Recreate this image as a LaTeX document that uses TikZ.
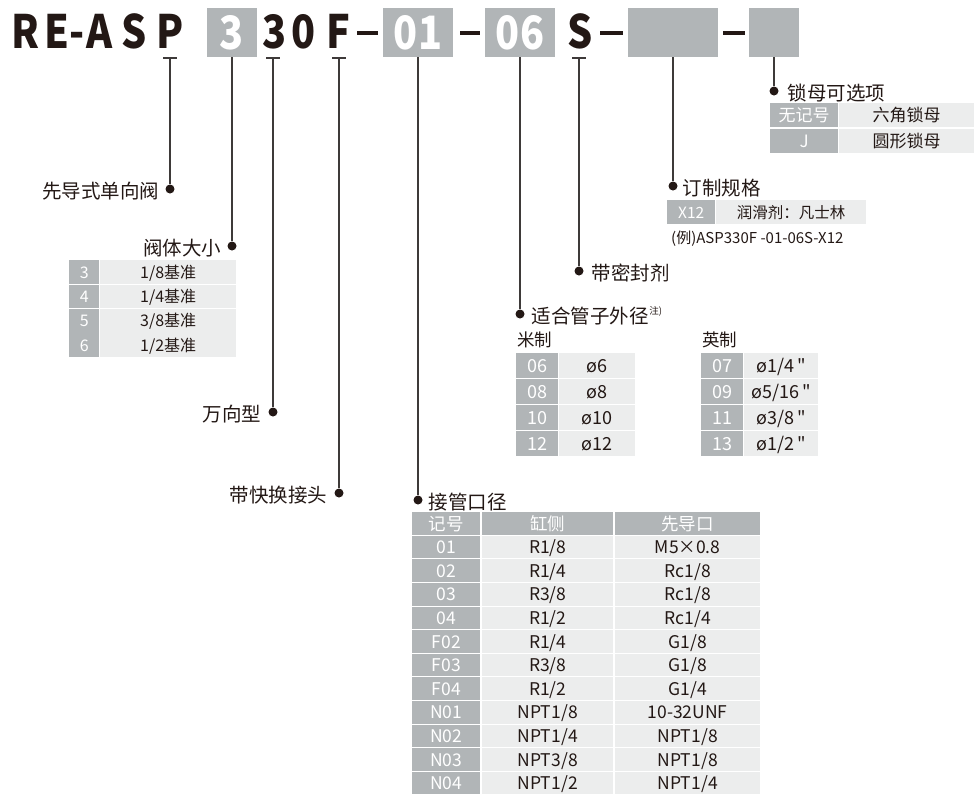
\documentclass[tikz,border=0pt]{standalone}
\usepackage{fontspec}
\usepackage{graphicx}
\setmainfont{Noto Sans CJK SC}
\newfontfamily\plainquote{Noto Sans CJK SC}
\newcommand{\narrow}[1]{\scalebox{0.86}[1]{#1}}
\usetikzlibrary{positioning}
\definecolor{ink}{HTML}{231815}
\definecolor{wire}{HTML}{3E3A39}
\definecolor{keygray}{HTML}{B1B5B7}
\definecolor{cellgray}{HTML}{ECEDED}
\begin{document}
\begin{tikzpicture}[x=1pt, y=-1pt,
    title/.style ={anchor=base, inner sep=0pt, text=ink, font=\fontsize{46}{46}\selectfont\bfseries},
    codebox/.style ={fill=keygray, text=white, inner sep=0pt, minimum height=49pt, text height=33.5pt, text depth=0pt, font=\fontsize{46}{46}\selectfont\bfseries},
    sepbar/.style ={line width=3.5pt, ink},
    lead/.style ={line width=1.5pt, wire},
    pin/.style ={circle, fill=ink, inner sep=0pt, minimum size=9pt},
    itemname/.style ={inner sep=0pt, text=ink, text height=14.8pt, text depth=0pt, yshift=-2.5pt, font=\fontsize{19.5}{19.5}\selectfont},
    key/.style ={fill=keygray, text=white, inner sep=0pt, anchor=north west, text depth=0pt},
    cell/.style ={fill=cellgray, text=ink, inner sep=0pt, anchor=north west, text depth=0pt},
    sizekey/.style ={key, minimum width=30pt, minimum height=23.5pt, text height=12.2pt, font=\fontsize{16}{16}\selectfont},
    sizecell/.style ={cell, minimum width=136pt, minimum height=23.5pt, text height=12.2pt, font=\fontsize{16}{16}\selectfont},
    nutkey/.style ={key, minimum width=68pt, minimum height=24pt, text height=12.9pt, font=\fontsize{17}{17}\selectfont},
    nutcell/.style ={cell, minimum width=135pt, minimum height=24pt, text height=12.9pt, font=\fontsize{17}{17}\selectfont},
    tubekey/.style ={key, minimum width=42pt, minimum height=25pt, text height=13.7pt, font=\fontsize{18}{18}\selectfont},
    tubecell/.style ={cell, minimum height=25pt, text height=13.7pt, font=\fontsize{18}{18}\selectfont},
    portkey/.style ={key, minimum width=68pt, minimum height=22.5pt, text height=13.3pt, font=\fontsize{17.5}{17.5}\selectfont},
    portcell/.style ={cell, minimum height=22.5pt, text height=13.3pt, font=\fontsize{17.5}{17.5}\selectfont}]
   \useasboundingbox (0,0) rectangle (974,796);

   \node[title] (cR) at (26,48) {\narrow{R}};
   \node[title] (cE) at (57,48) {\narrow{E}};
   \node[title] (cH) at (77,48) {\narrow{-}};
   \node[title] (cA) at (100,48) {\narrow{A}};
   \node[title] (cS) at (134,48) {\narrow{S}};
   \node[title] (cP) at (170,48) {\narrow{P}};
   \node[codebox, minimum width=50pt] (b3) at (232,32.5) {\narrow{3}};
   \node[title] (c3) at (275,48) {\narrow{3}};
   \node[title] (c0) at (304,48) {\narrow{0}};
   \node[title] (cF) at (338,48) {\narrow{F}};
   \node[codebox, minimum width=70pt] (b01) at (418,32.5) {\narrow{01}};
   \node[codebox, minimum width=70pt] (b06) at (520,32.5) {\narrow{06}};
   \node[title] (cS2) at (580,48) {\narrow{S}};
   \node[codebox, minimum width=90pt] (bx) at (673,32.5) {};
   \node[codebox, minimum width=50pt] (bn) at (774,32.5) {};

   \draw[sepbar] (357,33) -- (378,33);
   \draw[sepbar] (460,33) -- (480,33);
   \draw[sepbar] (600,33) -- (623,33);
   \draw[sepbar] (723,33) -- (745,33);

   \coordinate (tP) at (170,58);
   \coordinate (t3) at (273,58);
   \coordinate (tF) at (339,58);
   \coordinate (tS) at (579,58);
   \draw[lead] (163,58) -- (177,58);
   \draw[lead] (266,58) -- (280,58);
   \draw[lead] (332,58) -- (346,58);
   \draw[lead] (572,58) -- (586,58);

   \node[pin] (dP) at (170,189) {};
   \node[pin] (dSize) at (232,246) {};
   \node[pin] (dU) at (273,412) {};
   \node[pin] (dF) at (339,493) {};
   \node[pin] (dPort) at (418,500) {};
   \node[pin] (dTube) at (520,314) {};
   \node[pin] (dSeal) at (579,271) {};
   \node[pin] (dX) at (673,186) {};
   \node[pin] (dNut) at (774,91) {};

   \draw[lead] (tP) -- (dP);
   \draw[lead] (b3.south) -- (dSize);
   \draw[lead] (t3) -- (dU);
   \draw[lead] (tF) -- (dF);
   \draw[lead] (b01.south) -- (dPort);
   \draw[lead] (b06.south) -- (dTube);
   \draw[lead] (tS) -- (dSeal);
   \draw[lead] (bx.south) -- (dX);
   \draw[lead] (bn.south) -- (dNut);

   \node[itemname, left=6pt of dP] (lP) {先导式单向阀};
   \node[itemname, left=6pt of dSize] (lSize) {阀体大小};
   \node[itemname, left=7pt of dU] (lU) {万向型};
   \node[itemname, left=7pt of dF] (lF) {带快换接头};
   \node[itemname, right=6pt of dPort] (lPort) {接管口径};
   \node[itemname, right=7pt of dTube] (lTube) {适合管子外径};
   \node[inner sep=0pt, anchor=north west, text=ink, font=\fontsize{9.5}{9.5}\selectfont] (lNote) at ([yshift=3pt]lTube.north east) {注)};
   \node[itemname, right=8pt of dSeal] (lSeal) {带密封剂};
   \node[itemname, right=5pt of dX] (lX) {订制规格};
   \node[itemname, right=9pt of dNut] (lNut) {锁母可选项};

   \node[sizekey] (s3k) at (69,260) {3};
   \node[sizecell] (s3v) at (100,260) {1/8基准};
   \node[sizekey] (s4k) at (69,284.4) {4};
   \node[sizecell] (s4v) at (100,284.4) {1/4基准};
   \node[sizekey] (s5k) at (69,308.8) {5};
   \node[sizecell] (s5v) at (100,308.8) {3/8基准};
   \node[sizekey] (s6k) at (69,333.2) {6};
   \node[sizecell] (s6v) at (100,333.2) {1/2基准};

   \node[nutkey] (n0k) at (770,103) {无记号};
   \node[nutcell] (n0v) at (839,103) {六角锁母};
   \node[nutkey] (nJk) at (770,128.5) {J};
   \node[nutcell] (nJv) at (839,128.5) {圆形锁母};

   \node[key, minimum width=48pt, minimum height=24pt, text height=11.8pt, font=\fontsize{15.5}{15.5}\selectfont] (xk) at (667,200) {X12};
   \node[cell, minimum width=150pt, minimum height=24pt, text height=11.8pt, font=\fontsize{15.5}{15.5}\selectfont] (xv) at (716,200) {润滑剂：凡士林};
   \node[inner sep=0pt, anchor=west, text=ink, text height=11.4pt, text depth=0pt, font=\fontsize{15}{15}\selectfont] (xeg) at (671,238) {(例)ASP330F -01-06S-X12};

   \node[inner sep=0pt, anchor=west, text=ink, text height=13.3pt, text depth=0pt, font=\fontsize{17.5}{17.5}\selectfont] (metric) at (517,340) {米制};
   \node[inner sep=0pt, anchor=west, text=ink, text height=13.3pt, text depth=0pt, font=\fontsize{17.5}{17.5}\selectfont] (inch) at (702,340) {英制};

   \node[tubekey] (m06k) at (516,353) {06};
   \node[tubecell, minimum width=76pt] (m06v) at (559,353) {ø6};
   \node[tubekey] (m08k) at (516,379) {08};
   \node[tubecell, minimum width=76pt] (m08v) at (559,379) {ø8};
   \node[tubekey] (m10k) at (516,405) {10};
   \node[tubecell, minimum width=76pt] (m10v) at (559,405) {ø10};
   \node[tubekey] (m12k) at (516,431) {12};
   \node[tubecell, minimum width=76pt] (m12v) at (559,431) {ø12};

   \node[tubekey] (i07k) at (701,353) {07};
   \node[tubecell, minimum width=74pt] (i07v) at (744,353) {ø1/4\,{\plainquote"}};
   \node[tubekey] (i09k) at (701,379) {09};
   \node[tubecell, minimum width=74pt] (i09v) at (744,379) {ø5/16\,{\plainquote"}};
   \node[tubekey] (i11k) at (701,405) {11};
   \node[tubecell, minimum width=74pt] (i11v) at (744,405) {ø3/8\,{\plainquote"}};
   \node[tubekey] (i13k) at (701,431) {13};
   \node[tubecell, minimum width=74pt] (i13v) at (744,431) {ø1/2\,{\plainquote"}};

   \node[portkey] (phk) at (412,512) {记号};
   \node[portkey, minimum width=131pt] (phc) at (482,512) {缸侧};
   \node[portkey, minimum width=145pt] (php) at (615,512) {先导口};
   \node[portkey] (p01k) at (412,535.6) {01};
   \node[portcell, minimum width=131pt] (p01c) at (482,535.6) {R1/8};
   \node[portcell, minimum width=145pt] (p01p) at (615,535.6) {M5×0.8};
   \node[portkey] (p02k) at (412,559.2) {02};
   \node[portcell, minimum width=131pt] (p02c) at (482,559.2) {R1/4};
   \node[portcell, minimum width=145pt] (p02p) at (615,559.2) {Rc1/8};
   \node[portkey] (p03k) at (412,582.8) {03};
   \node[portcell, minimum width=131pt] (p03c) at (482,582.8) {R3/8};
   \node[portcell, minimum width=145pt] (p03p) at (615,582.8) {Rc1/8};
   \node[portkey] (p04k) at (412,606.4) {04};
   \node[portcell, minimum width=131pt] (p04c) at (482,606.4) {R1/2};
   \node[portcell, minimum width=145pt] (p04p) at (615,606.4) {Rc1/4};
   \node[portkey] (pF02k) at (412,630) {F02};
   \node[portcell, minimum width=131pt] (pF02c) at (482,630) {R1/4};
   \node[portcell, minimum width=145pt] (pF02p) at (615,630) {G1/8};
   \node[portkey] (pF03k) at (412,653.6) {F03};
   \node[portcell, minimum width=131pt] (pF03c) at (482,653.6) {R3/8};
   \node[portcell, minimum width=145pt] (pF03p) at (615,653.6) {G1/8};
   \node[portkey] (pF04k) at (412,677.2) {F04};
   \node[portcell, minimum width=131pt] (pF04c) at (482,677.2) {R1/2};
   \node[portcell, minimum width=145pt] (pF04p) at (615,677.2) {G1/4};
   \node[portkey] (pN01k) at (412,700.8) {N01};
   \node[portcell, minimum width=131pt] (pN01c) at (482,700.8) {NPT1/8};
   \node[portcell, minimum width=145pt] (pN01p) at (615,700.8) {10-32UNF};
   \node[portkey] (pN02k) at (412,724.4) {N02};
   \node[portcell, minimum width=131pt] (pN02c) at (482,724.4) {NPT1/4};
   \node[portcell, minimum width=145pt] (pN02p) at (615,724.4) {NPT1/8};
   \node[portkey] (pN03k) at (412,748) {N03};
   \node[portcell, minimum width=131pt] (pN03c) at (482,748) {NPT3/8};
   \node[portcell, minimum width=145pt] (pN03p) at (615,748) {NPT1/8};
   \node[portkey] (pN04k) at (412,771.6) {N04};
   \node[portcell, minimum width=131pt] (pN04c) at (482,771.6) {NPT1/2};
   \node[portcell, minimum width=145pt] (pN04p) at (615,771.6) {NPT1/4};

\end{tikzpicture}
\end{document}
